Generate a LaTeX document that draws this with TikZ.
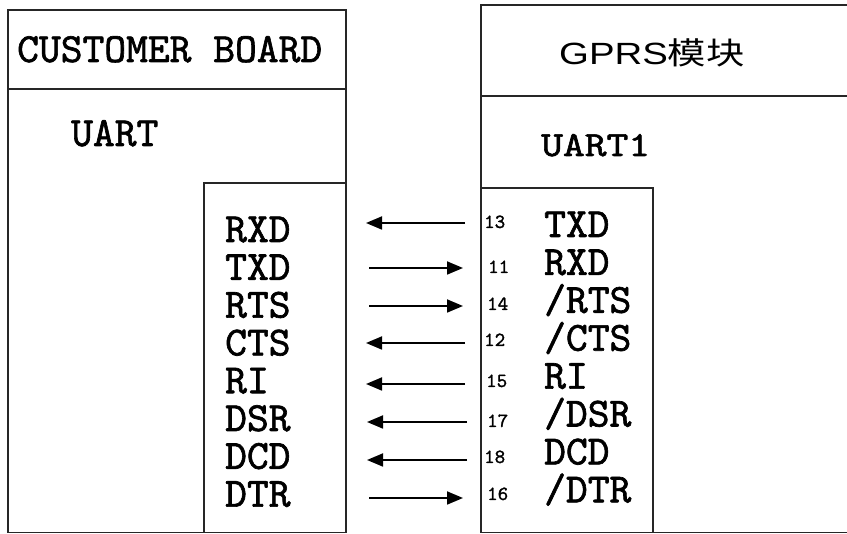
\documentclass[tikz,border=0pt]{standalone}
\usepackage{fontspec}
\usetikzlibrary{arrows.meta}
\newfontfamily\simfont{lmmono10-regular.otf}[FakeBold=1.5]
\newfontfamily\gprsfont{Liberation Sans}
\newfontfamily\cjkfont{Noto Sans CJK SC}
\begin{document}
\begin{tikzpicture}[x=1pt,y=-1pt,
  box/.style={draw=black!85, line width=1.6pt},
  big/.style={inner sep=0, anchor=base west, font=\simfont\fontsize{41.5}{41.5}\selectfont},
  pin/.style={inner sep=0, anchor=base west, font=\simfont\fontsize{20}{20}\selectfont},
  sig/.style={draw=black, line width=1.8pt, -{Triangle[length=16pt,width=13pt]}}]
\useasboundingbox (0,0) rectangle (847,534);
% left board
\draw[box] (8,10) rectangle (346,532.5);
\draw[box] (8,89) -- (346,89);
\draw[box] (204,183) rectangle (346,532.5);
% right module (open on the right)
\draw[box] (848,5) -- (481,5) -- (481,532.5) -- (848,532.5);
\draw[box] (481,96) -- (848,96);
\draw[box] (481,188) -- (653,188) -- (653,532.5);
% titles
\node[big] (cb) at (17,62) {CUSTOMER BOARD};
\node[big] (uart) at (71,146) {UART};
\node[inner sep=0, anchor=base west] (gprs) at (559,65)
  {\scalebox{1.25}[1]{\fontsize{30.7}{30.7}\selectfont\gprsfont GPRS\cjkfont 模块}};
\node[big] (uart1) at (541,156) {\scalebox{1}[0.85]{UART1}};
% left signals
\node[big] (lRXD) at (225,242) {RXD};
\node[big] (lTXD) at (225,279.8) {TXD};
\node[big] (lRTS) at (225,317.6) {RTS};
\node[big] (lCTS) at (225,355.4) {CTS};
\node[big] (lRI)  at (225,393.2) {RI};
\node[big] (lDSR) at (225,431) {DSR};
\node[big] (lDCD) at (225,468.8) {DCD};
\node[big] (lDTR) at (225,506.6) {DTR};
% right signals
\node[big] (rTXD) at (544,237) {TXD};
\node[big] (rRXD) at (544,274.9) {RXD};
\node[big] (rRTS) at (544,312.8) {/RTS};
\node[big] (rCTS) at (544,350.7) {/CTS};
\node[big] (rRI)  at (544,388.6) {RI};
\node[big] (rDSR) at (544,426.5) {/DSR};
\node[big] (rDCD) at (544,464.4) {DCD};
\node[big] (rDTR) at (544,502.3) {/DTR};
% pin numbers
\node[pin] (p13) at (484,228) {13};
\node[pin] (p11) at (488,273) {11};
\node[pin] (p14) at (487,310) {14};
\node[pin] (p12) at (484,346) {12};
\node[pin] (p15) at (486,387) {15};
\node[pin] (p17) at (487,427) {17};
\node[pin] (p18) at (484,463) {18};
\node[pin] (p16) at (487,500) {16};
% arrow ends
\coordinate (aL1) at (366,223); \coordinate (aR1) at (465,223);
\coordinate (aL2) at (369,268); \coordinate (aR2) at (463,268);
\coordinate (aL3) at (369,306); \coordinate (aR3) at (463,306);
\coordinate (aL4) at (366,343); \coordinate (aR4) at (465,343);
\coordinate (aL5) at (366,384); \coordinate (aR5) at (465,384);
\coordinate (aL6) at (367,422); \coordinate (aR6) at (467,422);
\coordinate (aL7) at (367,460); \coordinate (aR7) at (467,460);
\coordinate (aL8) at (369,498); \coordinate (aR8) at (463,498);
\draw[sig] (aR1) -- (aL1);
\draw[sig] (aL2) -- (aR2);
\draw[sig] (aL3) -- (aR3);
\draw[sig] (aR4) -- (aL4);
\draw[sig] (aR5) -- (aL5);
\draw[sig] (aR6) -- (aL6);
\draw[sig] (aR7) -- (aL7);
\draw[sig] (aL8) -- (aR8);
\end{tikzpicture}
\end{document}
